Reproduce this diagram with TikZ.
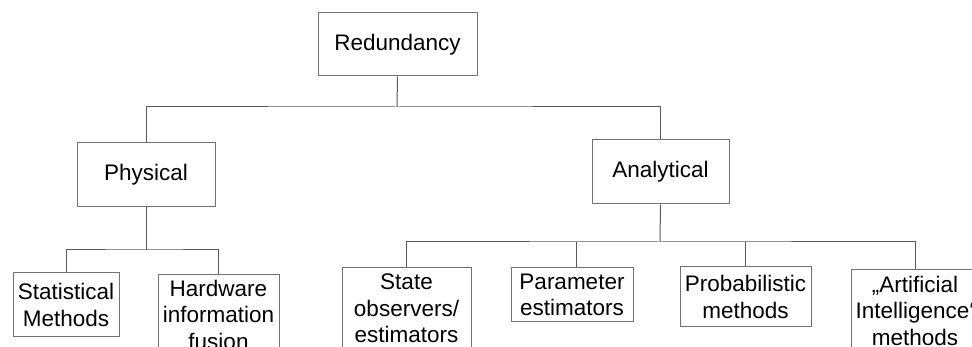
\documentclass[tikz,border=0pt]{standalone}
\usepackage{fontspec}
\setmainfont{Liberation Sans}
\begin{document}
\begin{tikzpicture}[x=1pt,y=-1pt,
  box/.style={draw=black!55, line width=1pt, fill=white, align=center, inner sep=0pt,
    font=\fontsize{22.5}{26.4}\selectfont},
  link/.style={draw=black!65, line width=1pt}]
\useasboundingbox (0,0) rectangle (972,347);
\clip (0,0) rectangle (972,347);

% top level
\node[box, minimum width=159pt, minimum height=63pt] (red) at (397.5,44.5) {Redundancy};

% second level
\node[box, minimum width=138pt, minimum height=64pt] (phys) at (146,175) {Physical};
\node[box, minimum width=137pt, minimum height=64pt] (ana) at (660.5,172) {Analytical};

% physical redundancy methods
\node[box, minimum width=106pt, minimum height=64pt] (stat) at (66,305) {Statistical\\Methods};
\node[box, anchor=north, minimum width=121pt, inner ysep=5.6pt] (hw) at (218.5,274) {Hardware\\information\\fusion};

% analytical redundancy methods
\node[box, anchor=north, minimum width=129pt, inner ysep=6.7pt] (state) at (406.5,267) {State\\observers/\\estimators};
\node[box, minimum width=122pt, minimum height=54pt] (param) at (572,295) {Parameter\\estimators};
\node[box, minimum width=131pt, minimum height=60pt] (prob) at (745.5,297) {Probabilistic\\methods};
\node[box, anchor=north, minimum width=128pt, inner ysep=6.6pt] (ai) at (915,269) {„Artificial\\Intelligence‘\\methods};

% junctions
\coordinate (j1) at (397,107);
\coordinate (j2) at (146,250);
\coordinate (j3) at (660,242);

% connectors
\draw[link] (red.south) -- (j1);
\draw[link] (phys.north) |- (j1) -| (ana.north);
\draw[link] (phys.south) -- (j2);
\draw[link] (stat.north) |- (j2) -| (hw.north);
\draw[link] (ana.south) -- (j3);
\draw[link] (state.north) |- (j3) -| (ai.north);
\draw[link] ([xshift=4pt]param.north) -- ([xshift=4pt]param.north |- j3);
\draw[link] (prob.north) -- (prob.north |- j3);
\end{tikzpicture}
\end{document}
